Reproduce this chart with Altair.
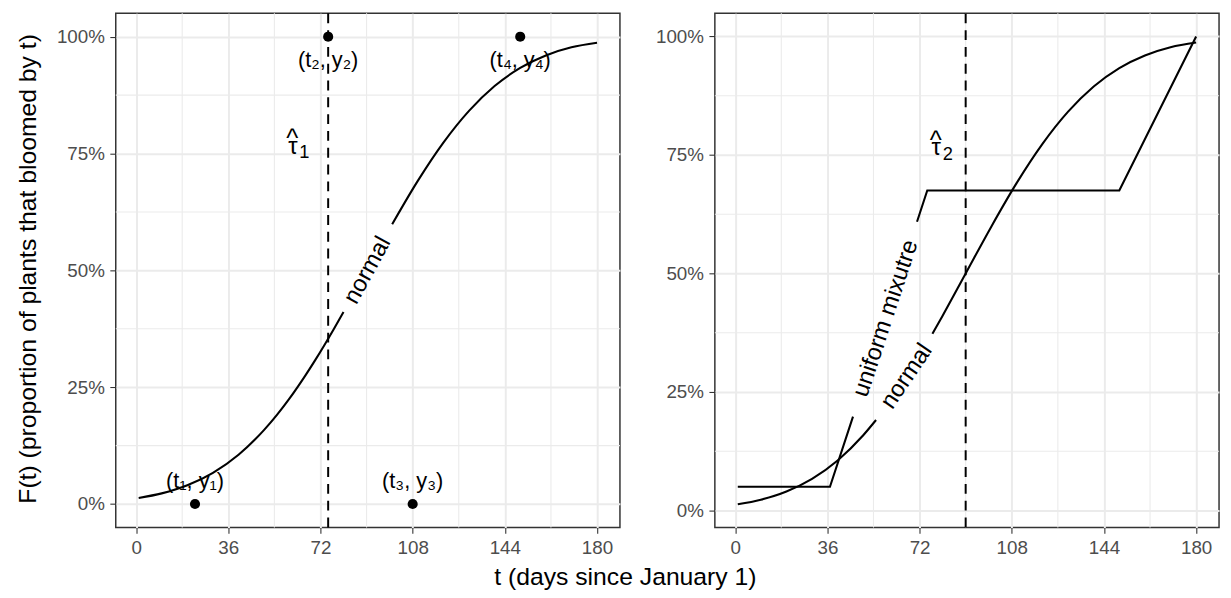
import altair as alt
import pandas as pd

FONT = "Liberation Sans"

# ---------------- data ----------------
x_breaks = [0, 36, 72, 108, 144, 180]
x_minor = [18, 54, 90, 126, 162]
y_breaks = [0, 0.25, 0.5, 0.75, 1.0]
y_minor = [0.125, 0.375, 0.625, 0.875]

# normal CDF curve (same curve in both panels)
norm_t = [1, 10, 20, 30, 40, 50, 55, 60, 66, 70, 77, 81, 90, 100, 110, 120, 130, 140, 150, 160, 170, 180]
norm_F = [0.013, 0.0228, 0.0401, 0.0668, 0.1056, 0.1587, 0.1908, 0.2266, 0.2743, 0.3085, 0.3726,
          0.411, 0.5, 0.5987, 0.6915, 0.7734, 0.8413, 0.8944, 0.9332, 0.9599, 0.9772, 0.987]

# uniform mixture CDF (right panel), straight pieces
unif_t = [1, 37, 46, 71, 75, 150, 180]
unif_F = [0.05, 0.05, 0.198, 0.609, 0.675, 0.675, 1.0]

# gaps left in the lines where the text labels sit
left_norm_gap = [81, 100]
right_norm_gap = [55, 77]
unif_gap = [46, 71]

# observations (left panel)
pt_t = [23, 75, 108, 150]
pt_y = [0, 1, 0, 1]
pt_label = ["(t\u2081, y\u2081)", "(t\u2082, y\u2082)", "(t\u2083, y\u2083)", "(t\u2084, y\u2084)"]
pt_label_y = [0.05, 0.95, 0.05, 0.95]

# estimates tau-hat
tau_hat = [75, 90]
tau_sub = ["1", "2"]
tau_label_t = [61.2, 78.5]
tau_label_y = [0.75, 0.75]

# curve labels: text, t, F
lab_left_norm = ["normal", 90.4, 0.5]
lab_right_norm = ["normal", 67, 0.283]
lab_unif = ["uniform mixutre", 58.8, 0.405]

x_title = "t (days since January 1)"
y_title = "F(t) (proportion of plants that bloomed by t)"

# ---------------- helpers ----------------
W, H = 510, 520
GRID = "#EBEBEB"


def segments(ts, fs, gap, name):
    rows = []
    for t, f in zip(ts, fs):
        if t <= gap[0]:
            rows.append({"t": t, "F": f, "seg": name + "a"})
        elif t >= gap[1]:
            rows.append({"t": t, "F": f, "seg": name + "b"})
    return rows


xscale = alt.Scale(domain=[-7.95, 188.95], nice=False, zero=False)
yscale_left = alt.Scale(domain=[-0.05, 1.05], nice=False, zero=False)
yscale_right = alt.Scale(domain=[-0.0357, 1.0487], nice=False, zero=False)

common_axis = dict(
    grid=True, gridColor=GRID, gridWidth=2, domain=False,
    tickColor="#333333", tickSize=6, tickWidth=1.1,
    labelColor="#4D4D4D", labelFont=FONT, labelFontSize=19,
    titleFont=FONT, titleFontSize=25, titleFontWeight="normal", titleColor="black",
)

x_axis_left = alt.Axis(values=x_breaks, labelPadding=5, title=x_title,
                       titleX=515, titleY=57.5, titleAlign="center", titleBaseline="alphabetic",
                       **common_axis)
x_axis_right = alt.Axis(values=x_breaks, labelPadding=5, title=None, **common_axis)
y_axis_left = alt.Axis(values=y_breaks, format=".0%", labelPadding=5.5, title=y_title,
                       titleX=-89, titleY=258, titleAngle=270, titleAlign="center",
                       titleBaseline="middle", **common_axis)
y_axis_right = alt.Axis(values=y_breaks, format=".0%", labelPadding=5.5, title=None, **common_axis)


def panel(xaxis, yaxis, yscale, curve_rows, straight_rows, rules, points, texts):
    X = lambda f: alt.X(f, scale=xscale, axis=xaxis)
    Y = lambda f: alt.Y(f, scale=yscale, axis=yaxis)
    minor_x = alt.Chart(pd.DataFrame({"t": x_minor})).mark_rule(
        color=GRID, strokeWidth=1.1).encode(x=X("t:Q"))
    minor_y = alt.Chart(pd.DataFrame({"F": y_minor})).mark_rule(
        color=GRID, strokeWidth=1.1).encode(y=Y("F:Q"))
    layers = [minor_x, minor_y]
    layers.append(alt.Chart(pd.DataFrame(curve_rows)).mark_line(
        color="black", strokeWidth=2.1, interpolate="monotone").encode(
        x=X("t:Q"), y=Y("F:Q"), detail="seg:N"))
    if straight_rows:
        layers.append(alt.Chart(pd.DataFrame(straight_rows)).mark_line(
            color="black", strokeWidth=2.1, interpolate="linear", strokeJoin="miter").encode(
            x=X("t:Q"), y=Y("F:Q"), detail="seg:N"))
    layers.append(alt.Chart(pd.DataFrame({"t": rules})).mark_rule(
        color="black", strokeWidth=2, strokeDash=[10, 7]).encode(x=X("t:Q")))
    if points is not None:
        layers.append(alt.Chart(pd.DataFrame(points)).mark_circle(
            color="black", opacity=1, size=105).encode(x=X("t:Q"), y=Y("F:Q")))
    for df, props in texts:
        style = {"baseline": "middle", "align": "center"}
        style.update(props)
        layers.append(alt.Chart(pd.DataFrame(df)).mark_text(
            font=FONT, color="black", **style).encode(
            x=X("t:Q"), y=Y("F:Q"), text="label:N"))
    return alt.layer(*layers).properties(width=W, height=H)


def tau_texts(i):
    base = {"t": [tau_label_t[i]], "F": [tau_label_y[i]]}
    return [
        (dict(base, label=["\u03c4"]), {"fontSize": 24, "baseline": "alphabetic"}),
        (dict(base, label=[tau_sub[i]]), {"fontSize": 18.5, "baseline": "alphabetic",
                                          "align": "left", "dx": 6.5, "dy": 5}),
        (dict(base, label=["^"]), {"fontSize": 26, "baseline": "alphabetic", "dy": -6.5, "dx": -0.5}),
    ]


left_curve = segments(norm_t, norm_F, left_norm_gap, "n")
right_curve = segments(norm_t, norm_F, right_norm_gap, "n")
right_straight = segments(unif_t, unif_F, unif_gap, "u")

left = panel(
    x_axis_left, y_axis_left, yscale_left, left_curve, None, [tau_hat[0]],
    {"t": pt_t, "F": pt_y},
    [
        ({"t": pt_t, "F": pt_label_y, "label": pt_label}, {"fontSize": 22}),
        ({"t": [lab_left_norm[1]], "F": [lab_left_norm[2]], "label": [lab_left_norm[0]]},
         {"fontSize": 24, "angle": 298.8}),
    ] + tau_texts(0),
)

right = panel(
    x_axis_right, y_axis_right, yscale_right, right_curve, right_straight, [tau_hat[1]],
    None,
    [
        ({"t": [lab_right_norm[1]], "F": [lab_right_norm[2]], "label": [lab_right_norm[0]]},
         {"fontSize": 24, "angle": 304}),
        ({"t": [lab_unif[1]], "F": [lab_unif[2]], "label": [lab_unif[0]]},
         {"fontSize": 24, "angle": 288.2}),
    ] + tau_texts(1),
)

chart = alt.hconcat(left, right, spacing=96, bounds="flush").configure_view(
    stroke="#333333", strokeWidth=1.5
).properties(
    padding={"left": 7, "top": 0, "right": 2, "bottom": 2},
    background="white",
)

chart.save("out.html", embed_options={"renderer": "svg", "actions": False})
